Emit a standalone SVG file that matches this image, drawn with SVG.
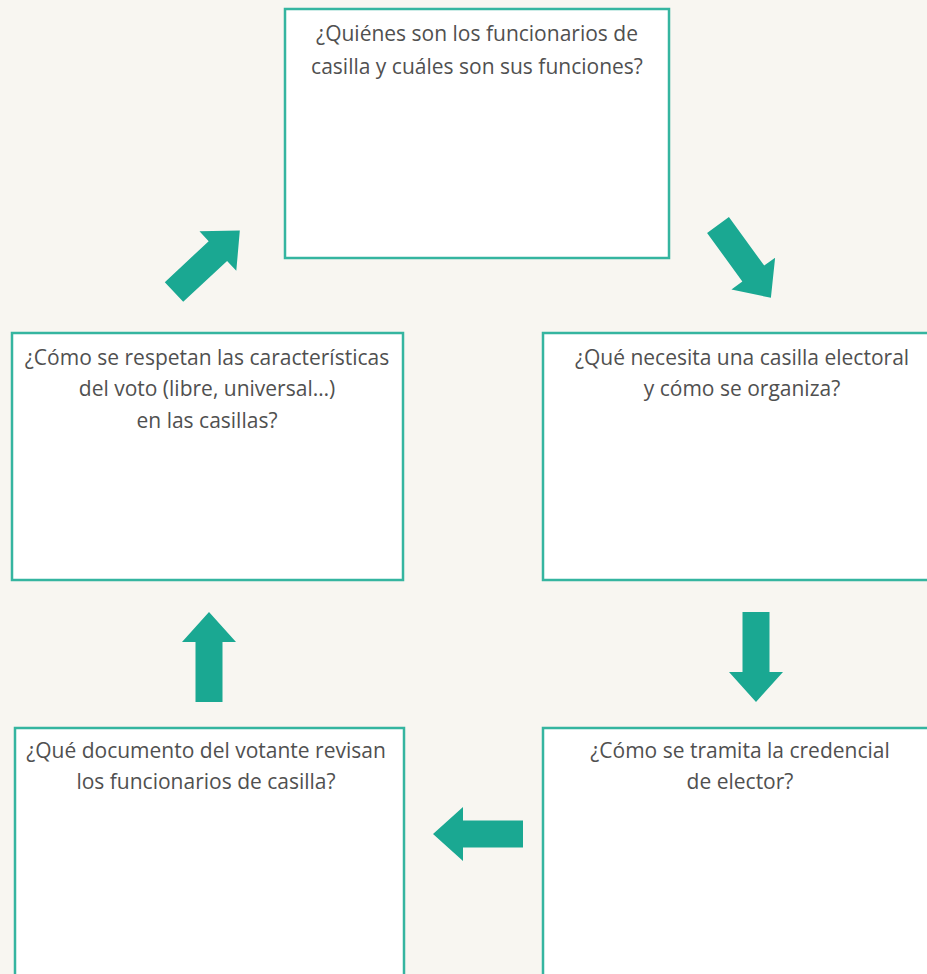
<svg xmlns="http://www.w3.org/2000/svg" xmlns:xlink="http://www.w3.org/1999/xlink" width="927" height="974" viewBox="0 0 927 974">
<style>
.box{fill:#ffffff;stroke:#35b5a0;stroke-width:2.5}
.t{font-family:"Open Sans","Noto Sans","Liberation Sans",sans-serif;font-size:21px;fill:#505050;text-anchor:middle}
.arr{fill:#1aa892}
</style>
<defs>
<path id="arrow" d="M0,-13.5 H60 V-27 L90,0 L60,27 V13.5 H0 Z"/>
</defs>
<rect x="0" y="0" width="927" height="974" fill="#f8f6f1"/>
<g id="node-funcionarios">
<rect class="box" x="285" y="9" width="384" height="249"/>
<text class="t" x="477" y="41">¿Quiénes son los funcionarios de</text>
<text class="t" x="477" y="74">casilla y cuáles son sus funciones?</text>
</g>
<g id="node-casilla">
<rect class="box" x="543" y="333" width="400" height="247"/>
<text class="t" x="742" y="365">¿Qué necesita una casilla electoral</text>
<text class="t" x="742" y="396">y cómo se organiza?</text>
</g>
<g id="node-credencial">
<rect class="box" x="543" y="728" width="400" height="260"/>
<text class="t" x="740" y="758">¿Cómo se tramita la credencial</text>
<text class="t" x="740" y="789">de elector?</text>
</g>
<g id="node-documento">
<rect class="box" x="15" y="728" width="389" height="260"/>
<text class="t" x="206" y="758">¿Qué documento del votante revisan</text>
<text class="t" x="206" y="789">los funcionarios de casilla?</text>
</g>
<g id="node-voto">
<rect class="box" x="12" y="333" width="391" height="247"/>
<text class="t" x="207" y="365">¿Cómo se respetan las características</text>
<text class="t" x="207" y="396">del voto (libre, universal…)</text>
<text class="t" x="207" y="428">en las casillas?</text>
</g>
<g id="connectors" class="arr">
<use xlink:href="#arrow" transform="translate(718,225) rotate(54)"/>
<use xlink:href="#arrow" transform="translate(756,612) rotate(90)"/>
<use xlink:href="#arrow" transform="translate(523,834) rotate(180)"/>
<use xlink:href="#arrow" transform="translate(209,702) rotate(-90)"/>
<use xlink:href="#arrow" transform="translate(174,292) rotate(-43)"/>
</g>
</svg>
